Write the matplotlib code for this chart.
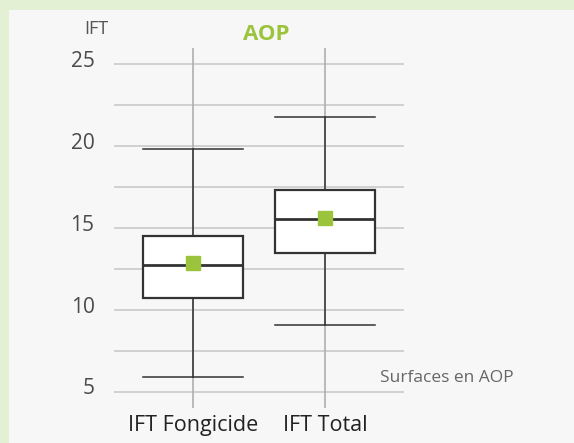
import matplotlib.pyplot as plt
from matplotlib.patches import Rectangle

categories = ["IFT Fongicide", "IFT Total"]
whisker_low = [5.9, 9.1]
q1 = [10.72, 13.47]
medians = [12.75, 15.55]
q3 = [14.53, 17.31]
whisker_high = [19.8, 21.8]
means = [12.85, 15.6]

y_ticks = [5, 10, 15, 20, 25]
y_grid = [5, 7.5, 10, 12.5, 15, 17.5, 20, 22.5, 25]

GREEN = "#9bc43c"
DARK = "#333333"
plt.rcParams['font.family'] = ['Open Sans', 'DejaVu Sans']


def main():
    fig = plt.figure(figsize=(5.74, 4.43), dpi=100)
    fig.patch.set_facecolor("#e3f0d3")
    # light inner panel, behind the axes
    panel = Rectangle((9 / 574, 0), 1, 1 - 10 / 443, transform=fig.transFigure,
                      facecolor="#f7f7f7", edgecolor="none", zorder=-10)
    fig.patches.append(panel)

    ax = fig.add_axes([114 / 574, 35 / 443, 290 / 574, (408 - 48) / 443])
    ax.set_facecolor("none")
    ax.set_zorder(1)

    stats = []
    for i, name in enumerate(categories):
        stats.append(dict(label=name, whislo=whisker_low[i], q1=q1[i], med=medians[i],
                          q3=q3[i], whishi=whisker_high[i], mean=means[i], fliers=[]))

    positions = list(range(1, len(categories) + 1))
    ax.bxp(stats, positions=positions, widths=0.76, showmeans=True, patch_artist=True,
           boxprops=dict(facecolor="white", edgecolor=DARK, linewidth=1.6),
           medianprops=dict(color=DARK, linewidth=2.0),
           whiskerprops=dict(color=DARK, linewidth=1.1),
           capprops=dict(color=DARK, linewidth=1.1),
           capwidths=0.76,
           meanprops=dict(marker="s", markersize=10, markerfacecolor=GREEN,
                          markeredgecolor=GREEN), zorder=3)

    ax.set_xlim(0.4, 2.6)
    ax.set_ylim(4, 26)

    for y in y_grid:
        ax.axhline(y, color="#c6c6c6", linewidth=1.1, zorder=1)
    for x in positions:
        ax.axvline(x, color="#aaaaaa", linewidth=1.1, zorder=1)

    # y labels sit a little above their gridlines
    ax.set_yticks([])
    for v in y_ticks:
        ax.annotate(str(v), xy=(0, v), xycoords=ax.get_yaxis_transform(),
                    xytext=(-14, 2), textcoords="offset points",
                    ha="right", va="center", fontsize=15, color="#4a4a4a")

    ax.set_xticks(positions)
    ax.set_xticklabels(categories)
    ax.tick_params(axis="x", length=0, pad=5, labelsize=15.5, labelcolor="#222222")
    for s in ax.spines.values():
        s.set_visible(False)

    fig.text(96 / 574, 1 - 29 / 443, "IFT", ha="center", va="center",
             fontsize=13, color="#555555")
    fig.text(266 / 574, 1 - 35 / 443, "AOP", ha="center", va="center",
             fontsize=16, fontweight="bold", color=GREEN)
    fig.text(380 / 574, 1 - 378 / 443, "Surfaces en AOP", ha="left", va="center",
             fontsize=12.5, color="#666666")

    fig.savefig("out.png", dpi=100, facecolor=fig.get_facecolor())


if __name__ == "__main__":
    main()
